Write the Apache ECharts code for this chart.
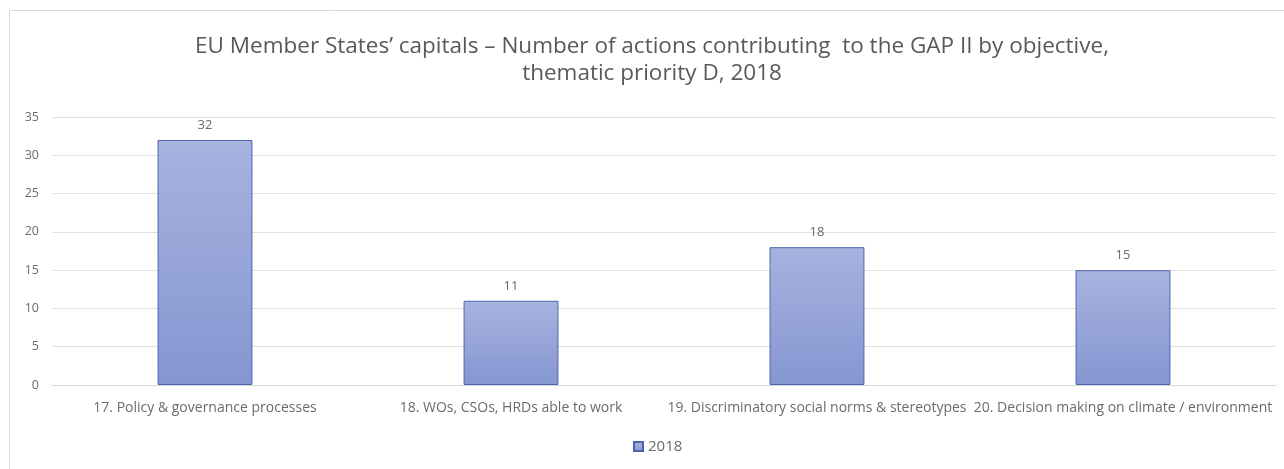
<!DOCTYPE html>
<html>
<head>
<meta charset="utf-8">
<script src="https://cdn.jsdelivr.net/npm/echarts@6/dist/echarts.min.js"></script>
<style>
  html, body { margin: 0; padding: 0; background: #ffffff; }
  #chart { width: 1284px; height: 469px; }
</style>
</head>
<body>
<div id="chart"></div>
<script>
// Objectives under thematic priority D
const categories = [
  '17. Policy & governance processes',
  '18. WOs, CSOs, HRDs able to work',
  '19. Discriminatory social norms & stereotypes',
  '20. Decision making on climate / environment'
];
// Number of actions, 2018
const values2018 = [32, 11, 18, 15];
const seriesName = '2018';
const titleLines = [
  'EU Member States\u2019 capitals \u2013 Number of actions contributing  to the GAP II by objective,',
  'thematic priority D, 2018'
];

const titleFont = "'Open Sans', sans-serif";
const labelFont = "'Open Sans', sans-serif";
const grey = '#6b6b6b';

const chart = echarts.init(document.getElementById('chart'), null, { renderer: 'canvas' });
chart.setOption({
  backgroundColor: '#ffffff',
  animation: false,
  graphic: [
    // chart area frame, extends past the right and bottom edges
    {
      type: 'rect',
      shape: { x: 9.5, y: 10.5, width: 1290, height: 470 },
      style: { fill: 'none', stroke: '#d9d9d9', lineWidth: 1 },
      silent: true
    },
    // two-line title centred on the chart area
    {
      type: 'text',
      x: 652,
      y: 33,
      silent: true,
      style: {
        text: titleLines.join('\n'),
        align: 'center',
        verticalAlign: 'top',
        fontFamily: titleFont,
        fontSize: 22.5,
        lineHeight: 27,
        fill: '#595959'
      }
    }
  ],
  legend: {
    bottom: 10,
    left: 628,
    itemWidth: 9,
    itemHeight: 9,
    itemGap: 3,
    icon: 'rect',
    textStyle: { fontFamily: labelFont, fontSize: 15, color: grey },
    data: [seriesName]
  },
  grid: { left: 52, right: 8, top: 117, bottom: 84 },
  xAxis: {
    type: 'category',
    data: categories,
    axisLine: { show: true, lineStyle: { color: '#d9d9d9' } },
    axisTick: { show: false },
    axisLabel: {
      interval: 0,
      margin: 16,
      fontFamily: labelFont,
      fontSize: 14,
      color: grey
    }
  },
  yAxis: {
    type: 'value',
    min: 0,
    max: 35,
    interval: 5,
    axisLine: { show: false },
    axisTick: { show: false },
    splitLine: { lineStyle: { color: '#e0e0e0' } },
    axisLabel: {
      margin: 13,
      fontFamily: labelFont,
      fontSize: 12.5,
      color: grey
    }
  },
  series: [{
    name: seriesName,
    type: 'bar',
    data: values2018,
    barWidth: '31%',
    itemStyle: {
      color: new echarts.graphic.LinearGradient(0, 0, 0, 1, [
        { offset: 0, color: '#a7b3df' },
        { offset: 1, color: '#8596d1' }
      ]),
      borderColor: '#4f63ad',
      borderWidth: 1
    },
    label: {
      show: true,
      position: 'top',
      distance: 8,
      fontFamily: labelFont,
      fontSize: 13,
      color: grey
    }
  }]
});
</script>
</body>
</html>
